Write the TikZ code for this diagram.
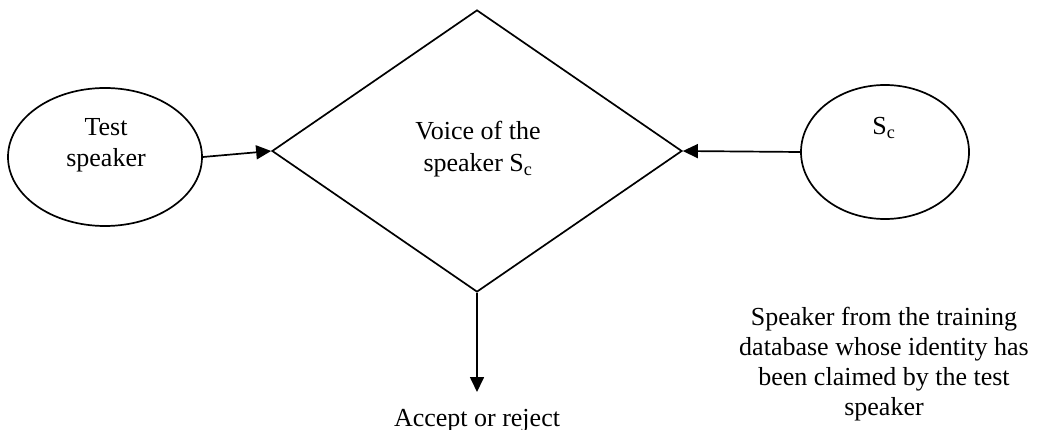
\documentclass[tikz,border=0pt]{standalone}
\usepackage{fontspec}
\setmainfont{Liberation Serif}
\usetikzlibrary{shapes.geometric,arrows.meta}
\tikzset{
  outline/.style={draw=black,line width=1.7pt},
  oval/.style={outline,ellipse,inner sep=0pt},
  decision/.style={outline,diamond,inner sep=0pt},
  txt/.style={font=\fontsize{26}{31}\selectfont,align=center,inner sep=0pt,anchor=base},
  flow/.style={line width=1.7pt,-{Triangle[length=15pt,width=14pt]}}
}
\begin{document}
\begin{tikzpicture}[x=1pt,y=-1pt]
\useasboundingbox (0,0) rectangle (1038,430);
% shapes
\node[oval,minimum width=194pt,minimum height=138pt] (test) at (105,157) {};
\node[oval,minimum width=168pt,minimum height=134pt] (claimed) at (885,152) {};
\node[decision,minimum width=410pt,minimum height=282pt] (dia) at (477,151) {};
% texts (multi-line nodes sit on the baseline of their last line)
\node[txt] (testtxt) at (106,167) {Test\\speaker};
\node[txt] (claimedtxt) at (884,135) {S\textsubscript{c}};
\node[txt,font=\fontsize{26}{32}\selectfont] (diatxt) at (478,172) {Voice of the\\speaker S\textsubscript{c}};
\coordinate (out) at (477,392);
\node[txt] (result) at (477,426) {Accept or reject};
\node[txt,font=\fontsize{26}{30}\selectfont] (note) at (884,415) {Speaker from the training\\database whose identity has\\been claimed by the test\\speaker};
% connectors
\draw[flow] (test.east) -- (dia.west);
\draw[flow] (claimed.west) -- (dia.east);
\draw[flow] (dia.south) -- (out);
\end{tikzpicture}
\end{document}
